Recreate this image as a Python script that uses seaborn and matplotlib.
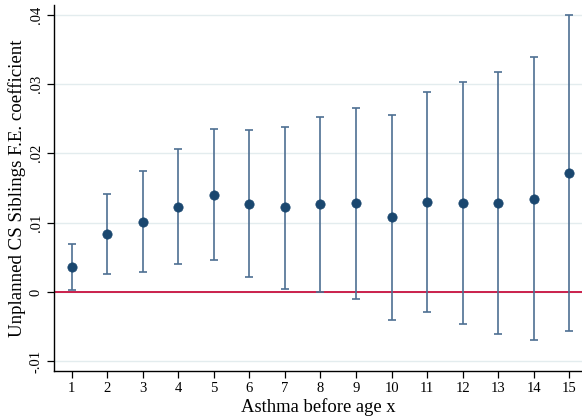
import matplotlib
matplotlib.use("Agg")
import matplotlib.pyplot as plt
import seaborn as sns
import pandas as pd
from matplotlib.ticker import FuncFormatter

# Coefficients and 95% CI bounds by age threshold
ages = list(range(1, 16))
coef = [0.0036, 0.0083, 0.0101, 0.0123, 0.0140, 0.0127, 0.0122, 0.0127,
        0.0128, 0.0108, 0.0130, 0.0129, 0.0129, 0.0134, 0.0172]
ci_low = [0.0003, 0.0026, 0.0029, 0.0040, 0.0046, 0.0022, 0.0004, 0.0000,
          -0.0010, -0.0041, -0.0029, -0.0046, -0.0060, -0.0070, -0.0056]
ci_high = [0.0069, 0.0141, 0.0174, 0.0206, 0.0235, 0.0234, 0.0238, 0.0253,
           0.0265, 0.0256, 0.0289, 0.0303, 0.0317, 0.0339, 0.0399]
y_ticks = [-0.01, 0, 0.01, 0.02, 0.03, 0.04]

df = pd.DataFrame({"age": ages, "coef": coef, "lo": ci_low, "hi": ci_high})

sns.set_theme(style="white")
plt.rcParams["font.family"] = ["Liberation Serif", "DejaVu Serif"]

fig = plt.figure(figsize=(5.82, 4.19), dpi=100)
ax = fig.add_axes([0.0928, 0.1153, 0.9072, 0.8727])

navy = "#1a476f"
bar_col = "#4e6f92"

ax.axhline(0, color="#c8103e", lw=1.3, zorder=2)
ax.errorbar(df["age"], df["coef"],
            yerr=[df["coef"] - df["lo"], df["hi"] - df["coef"]],
            fmt="none", ecolor=bar_col, elinewidth=1.2, capsize=3.2,
            capthick=1.2, zorder=3)
sns.scatterplot(data=df, x="age", y="coef", ax=ax, color=navy, s=45,
                edgecolor=navy, linewidth=0.5, zorder=4, legend=False)

ax.set_xlim(0.5, 15.36)
ax.set_ylim(-0.01136, 0.0414)
ax.set_xticks(ages)
ax.set_yticks(y_ticks)

def fmt(v, pos):
    if abs(v) < 1e-12:
        return "0"
    s = f"{v:.2f}"
    return s.replace("0.", ".", 1)

ax.yaxis.set_major_formatter(FuncFormatter(fmt))
ax.grid(axis="y", color="#e3ecee", lw=1.0, zorder=0)
ax.grid(axis="x", visible=False)

for side in ["top", "right"]:
    ax.spines[side].set_visible(False)
for side in ["left", "bottom"]:
    ax.spines[side].set_color("black")
    ax.spines[side].set_linewidth(1.0)

ax.tick_params(axis="both", which="major", direction="out", length=5,
               width=0.9, color="black", labelsize=10.5, bottom=True, left=True,
               labelcolor="black")
ax.tick_params(axis="y", pad=3)
for lab in ax.get_yticklabels():
    lab.set_rotation(90)
    lab.set_verticalalignment("center")

ax.set_xlabel("Asthma before age x", fontsize=13.4, color="black", labelpad=2)
ax.set_ylabel("Unplanned CS Siblings F.E. coefficient", fontsize=13.6,
              color="black", labelpad=3)

fig.savefig("out.png", dpi=100, facecolor="white")
